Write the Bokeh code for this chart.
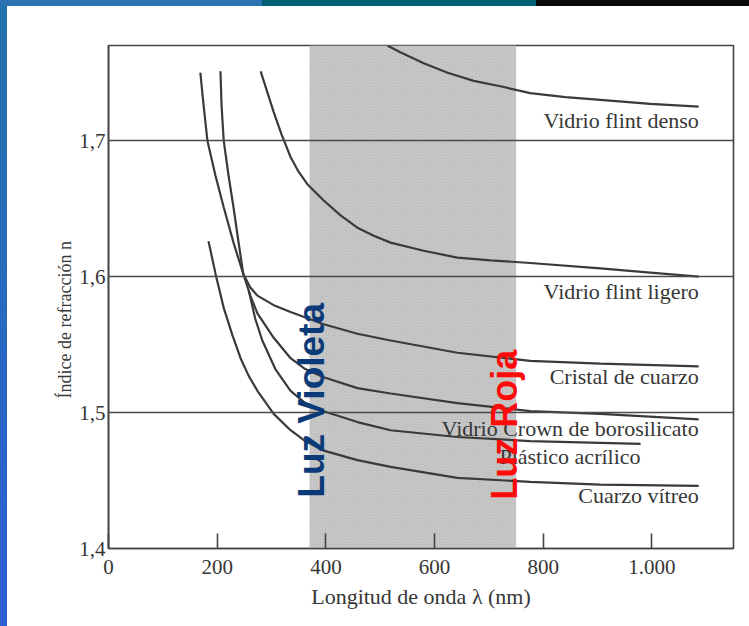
from bokeh.plotting import figure
from bokeh.models import FixedTicker, BoxAnnotation, Label, Range1d, Title
from bokeh.embed import file_html
from bokeh.resources import INLINE
import math

# ---------------- data ----------------
x_ticks = [0, 200, 400, 600, 800, 1000]
x_tick_labels = {1000: "1.000"}
y_ticks = [1.4, 1.5, 1.6, 1.7]
y_tick_labels = {1.4: "1,4", 1.5: "1,5", 1.6: "1,6", 1.7: "1,7"}

visible_band = [370, 750]   # nm, shaded visible region

flint_denso_nm = [513, 537, 580, 624, 672, 721, 776, 841, 905, 997, 1086]
flint_denso_n = [1.770, 1.765, 1.757, 1.750, 1.744, 1.740, 1.735, 1.732, 1.730, 1.727, 1.725]

flint_ligero_nm = [280, 304, 318, 335, 350, 366, 396, 427, 458, 488, 519, 580, 642, 703, 776, 905, 997, 1086]
flint_ligero_n = [1.751, 1.721, 1.705, 1.688, 1.677, 1.668, 1.656, 1.645, 1.636, 1.630, 1.625, 1.619,
                  1.614, 1.612, 1.610, 1.606, 1.603, 1.600]

cristal_nm = [169, 175, 182, 197, 212, 230, 248, 261, 274, 304, 335, 396, 458, 519, 642, 776, 905, 1086]
cristal_n = [1.750, 1.726, 1.700, 1.674, 1.651, 1.625, 1.602, 1.592, 1.586, 1.579, 1.574, 1.565,
             1.558, 1.553, 1.544, 1.538, 1.536, 1.534]

crown_nm = [206, 208, 212, 221, 230, 239, 248, 261, 274, 304, 335, 362, 396, 458, 519, 642, 776, 905, 1086]
crown_n = [1.751, 1.726, 1.700, 1.674, 1.651, 1.626, 1.602, 1.586, 1.573, 1.555, 1.540, 1.532,
           1.526, 1.518, 1.514, 1.507, 1.501, 1.499, 1.495]

plastico_nm = [258, 270, 283, 307, 335, 362, 396, 458, 519, 642, 776, 979]
plastico_n = [1.590, 1.569, 1.553, 1.532, 1.516, 1.507, 1.501, 1.493, 1.487, 1.482, 1.479, 1.477]

vitreo_nm = [184, 197, 212, 228, 243, 258, 274, 304, 335, 362, 396, 458, 519, 642, 776, 905, 1086]
vitreo_n = [1.626, 1.602, 1.577, 1.557, 1.540, 1.527, 1.516, 1.499, 1.487, 1.479, 1.472, 1.465,
            1.460, 1.452, 1.449, 1.447, 1.446]

series = [
    ("Vidrio flint denso", flint_denso_nm, flint_denso_n),
    ("Vidrio flint ligero", flint_ligero_nm, flint_ligero_n),
    ("Cristal de cuarzo", cristal_nm, cristal_n),
    ("Vidrio Crown de borosilicato", crown_nm, crown_n),
    ("Plástico acrílico", plastico_nm, plastico_n),
    ("Cuarzo vítreo", vitreo_nm, vitreo_n),
]

# label anchor (right end, vertical centre) for each curve name
label_pos = {
    "Vidrio flint denso": (1086, 1.715),
    "Vidrio flint ligero": (1086, 1.589),
    "Cristal de cuarzo": (1086, 1.5265),
    "Vidrio Crown de borosilicato": (1086, 1.488),
    "Plástico acrílico": (979, 1.4676),
    "Cuarzo vítreo": (1086, 1.439),
}

# ---------------- figure ----------------
SERIF = "Liberation Serif"
INK = "#363636"

p = figure(width=749, height=626, output_backend="svg", toolbar_location=None,
           x_range=Range1d(0, 1150), y_range=Range1d(1.4, 1.77),
           min_border_left=108, min_border_right=16, min_border_top=45, min_border_bottom=78)
p.background_fill_color = "white"
p.border_fill_alpha = 0
p.styles = {
    "background": ("linear-gradient(to right, #2a72b0 0px, #2a72b0 262px, #005f75 262px, "
                   "#005f75 536px, #0a0a0a 536px) top left / 100% 6px no-repeat, "
                   "linear-gradient(to bottom, #2273aa, #2e5ed4) top left / 7px 100% no-repeat, "
                   "#ffffff"),
}
p.outline_line_color = "#444444"
p.outline_line_width = 1.6

# shaded visible band
band = BoxAnnotation(left=visible_band[0], right=visible_band[1], fill_color="#cbcbcb",
                     fill_alpha=1.0, line_alpha=0, level="underlay",
                     hatch_pattern="/", hatch_color="#b4b4b4", hatch_alpha=0.7,
                     hatch_scale=3, hatch_weight=0.8)
p.add_layout(band)

# grid
p.xgrid.visible = False
p.ygrid.ticker = FixedTicker(ticks=[1.5, 1.6, 1.7])
p.ygrid.grid_line_color = "#4a4a4a"
p.ygrid.grid_line_width = 1.5
p.ygrid.level = "guide"

# axes
for ax in (p.xaxis[0], p.yaxis[0]):
    ax.axis_line_color = "#444444"
    ax.axis_line_width = 1.6
    ax.major_tick_line_color = "#444444"
    ax.major_tick_line_width = 1.6
    ax.minor_tick_line_color = None
    ax.major_label_text_font = SERIF
    ax.major_label_text_font_size = "21px"
    ax.major_label_text_color = INK
    ax.axis_label_text_font = SERIF
    ax.axis_label_text_font_size = "22px"
    ax.axis_label_text_font_style = "normal"
    ax.axis_label_text_color = INK

p.xaxis.ticker = FixedTicker(ticks=x_ticks)
p.xaxis.major_label_overrides = x_tick_labels
p.xaxis.major_tick_in = 15
p.xaxis.major_tick_out = 0
p.xaxis.major_label_standoff = 11
p.xaxis.axis_label = "Longitud de onda λ (nm)"
p.xaxis.axis_label_standoff = 7

p.yaxis.ticker = FixedTicker(ticks=y_ticks)
p.yaxis.major_label_overrides = y_tick_labels
p.yaxis.major_tick_in = 0
p.yaxis.major_tick_out = 0
p.yaxis.major_label_standoff = 3

# y axis title (side title, anchored from the bottom so it sits slightly below centre)
p.add_layout(Title(text="Índice de refracción n", align="left", offset=150, standoff=4,
                   text_font=SERIF, text_font_size="18px", text_font_style="normal",
                   text_color=INK), "left")

# curves and their names
for name, xs, ys in series:
    p.line(xs, ys, line_color="#3a3a3a", line_width=2.2)
    lx, ly = label_pos[name]
    p.add_layout(Label(x=lx, y=ly, text=name, text_font=SERIF, text_font_size="22px",
                       text_color=INK, text_align="right", text_baseline="middle"))

# rotated coloured annotations
p.add_layout(Label(x=374, y=1.509, text="Luz Violeta", angle=math.pi / 2,
                   text_font="Liberation Sans", text_font_style="bold", text_font_size="37px",
                   text_color="#0b3a78", text_align="center", text_baseline="alphabetic"))
p.add_layout(Label(x=729, y=1.491, text="Luz Roja", angle=math.pi / 2,
                   text_font="Liberation Sans", text_font_style="bold", text_font_size="36px",
                   text_color="#ff0a0a", text_align="center", text_baseline="alphabetic"))

open("out.html", "w").write(file_html(p, INLINE))
